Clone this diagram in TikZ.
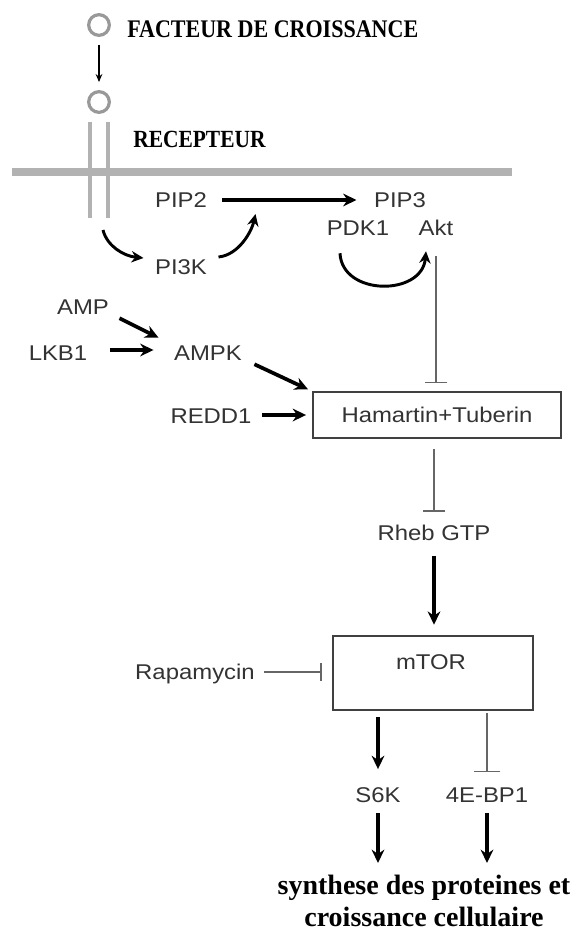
\documentclass[tikz,border=0pt]{standalone}
\usepackage{fontspec}
\setmainfont{Liberation Serif}
\newfontfamily\etiq[FakeStretch=1.12]{Liberation Sans}
\newfontfamily\titrefont[FakeStretch=0.87]{Liberation Serif}
\usetikzlibrary{arrows.meta}

\tikzset{
  lab/.style={font=\etiq\fontsize{16}{19}\selectfont, text=black!80, inner sep=1pt, text height=11.5pt, text depth=0pt},
  titre/.style={font=\titrefont\bfseries\fontsize{19}{22}\selectfont, inner sep=0pt, anchor=west},
  act/.style={draw=black, line width=2.8pt, -{Stealth[length=10pt,width=9.5pt]}},
  courbe/.style={draw=black, line width=2.2pt, -{Stealth[length=9pt,width=8.5pt]}},
  inh/.style={draw=black!60, line width=1.3pt, -{Bar[width=17pt,line width=1.3pt]}},
  boite/.style={draw=black!75, line width=1.4pt, fill=white, inner sep=0pt},
  rond/.style={draw=black!40, line width=2.4pt, circle, minimum size=15.5pt, inner sep=0pt},
  gris/.style={draw=black!30, line cap=butt}
}

\begin{document}
\begin{tikzpicture}[x=0.75pt, y=-0.75pt]
\useasboundingbox (0,0) rectangle (580,932);

% membrane, recepteur
\draw[gris, line width=6pt] (12,172) -- (512,172);
\draw[gris, line width=3.5pt] (90,122) -- (90,218) (108,122) -- (108,218);
\coordinate (recpied) at (99,218);

\node[rond] (fc) at (99,25) {};
\node[rond] (rc) at (99,102) {};
\draw[line width=1.1pt, -{Stealth[length=6pt,width=5pt]}, shorten <=6pt, shorten >=6pt] (fc) -- (rc);

\node[titre] (facteur) at (127,29) {FACTEUR DE CROISSANCE};
\node[titre, font=\titrefont\bfseries\fontsize{18.5}{22}\selectfont] (recepteur) at (133,139) {RECEPTEUR};

% voie PI3K / Akt
\node[lab] (PIP2) at (181,200) {PIP2};
\node[lab] (PIP3) at (400,200) {PIP3};
\node[lab] (PDK1) at (358,228) {PDK1};
\node[lab] (Akt) at (436,228) {Akt};
\node[lab] (PI3K) at (181,267) {PI3K};

\draw[act, shorten <=10pt, shorten >=12pt] (PIP2) -- (PIP3);
\draw[courbe] ([shift={(4,12)}]recpied) .. controls +(4,16) and +(-20,-2) .. ([shift={(-10,-9)}]PI3K.west);
\draw[courbe] ([shift={(10,-10)}]PI3K.east) .. controls +(20,-2) and +(-4,18) .. ([shift={(47,14)}]PIP2.east);
\draw[courbe] ([shift={(-18,16)}]PDK1.south) .. controls +(2,43) and +(-4,45) .. ([shift={(-10,14)}]Akt.south);

% AMPK
\node[lab] (AMP) at (83,307) {AMP};
\node[lab] (LKB1) at (58,353) {LKB1};
\node[lab] (AMPK) at (208,353) {AMPK};
\node[lab] (REDD1) at (211,416) {REDD1};

\node[boite, minimum width=186pt, minimum height=34pt] (HT) at (437,415) {};
\node[lab] (HTlbl) at (HT) {Hamartin+Tuberin};

\draw[act] ([shift={(9,2)}]AMP.south east) -- ([shift={(-14,-6)}]AMPK.north west);
\draw[act] ([shift={(21,-3)}]LKB1.east) -- ([shift={(-19,-3)}]AMPK.west);
\draw[act] ([shift={(11,2)}]AMPK.south east) -- ([shift={(-4,-2)}]HT.north west);
\draw[act] ([shift={(9,-1)}]REDD1.east) -- ([shift={(-6,0)}]HT.west);
\draw[inh, shorten <=14pt, shorten >=6pt] (Akt.south) -- (Akt.south |- HT.north);

% Rheb, mTOR
\node[lab] (Rheb) at (434,533) {Rheb GTP};
\draw[inh, shorten <=8pt, shorten >=9pt] (HT.south -| Rheb.south) -- (Rheb.north);

\node[boite, minimum width=150pt, minimum height=55pt] (mtor) at (433,673) {};
\node[lab] (mtorlbl) at (431,662) {mTOR};
\draw[act, shorten <=10pt, shorten >=8pt] (Rheb.south) -- (Rheb.south |- mtor.north);

\node[lab] (Rapa) at (195,672) {Rapamycin};
\draw[inh, -{Bar[width=13.5pt,line width=1.3pt]}, shorten <=6pt, shorten >=7.5pt] (Rapa.east) -- (Rapa.east -| mtor.west);

\node[lab] (S6K) at (378,795) {S6K};
\node[lab] (EBP) at (487,795) {4E-BP1};
\draw[act, shorten <=5pt, shorten >=12.5pt] (S6K.north |- mtor.south) -- (S6K.north);
\draw[inh, -{Bar[width=20pt,line width=1.3pt]}, shorten <=2pt, shorten >=10pt] (EBP.north |- mtor.south) -- (EBP.north);

\node[font=\bfseries\fontsize{21}{24}\selectfont, align=center, inner sep=0pt, anchor=north] (synth) at (424,875)
  {synthese des proteines et\\croissance cellulaire};
\draw[act, shorten <=6.5pt, shorten >=9pt] (S6K.south) -- (S6K.south |- synth.north);
\draw[act, shorten <=6.5pt, shorten >=9pt] (EBP.south) -- (EBP.south |- synth.north);
\end{tikzpicture}
\end{document}
